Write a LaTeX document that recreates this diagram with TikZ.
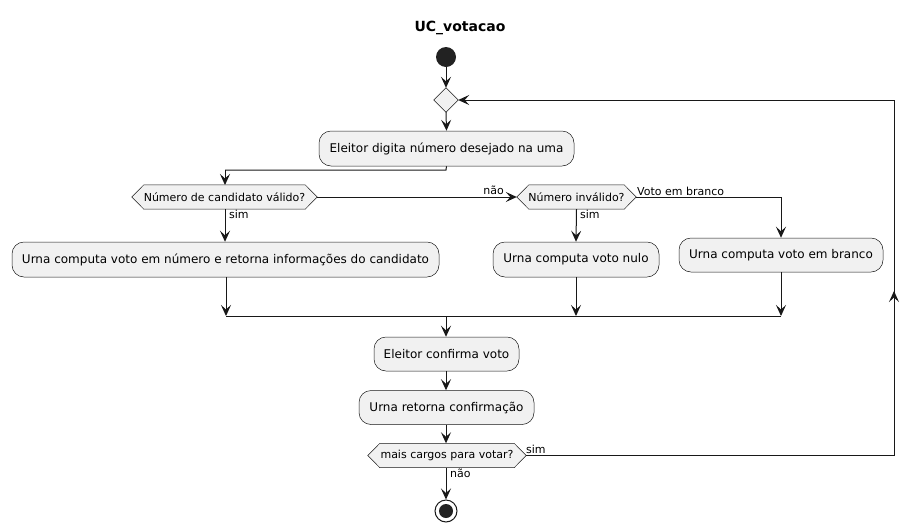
\documentclass[tikz,border=0pt]{standalone}
\usepackage{fontspec}
\setmainfont{DejaVu Sans}
\usetikzlibrary{arrows.meta,backgrounds}
\definecolor{pfill}{HTML}{F1F1F1}
\definecolor{pline}{HTML}{181818}
\definecolor{pdot}{HTML}{222222}
\tikzset{
  act/.style={draw=pline, fill=pfill, line width=0.5pt, rounded corners=12pt,
    font=\fontsize{12}{14}\selectfont, inner sep=0pt, minimum height=35pt, anchor=center},
  dec/.style={font=\fontsize{11}{13}\selectfont, inner sep=0pt, minimum height=24pt, anchor=center},
  lbl/.style={font=\fontsize{11}{13}\selectfont, inner sep=0pt},
  conn/.style={draw=pline, line width=1pt},
  arr/.style={conn, -{Stealth[length=11pt,width=10pt,inset=4.5pt]}},
}
\begin{document}
\begin{tikzpicture}[x=1pt,y=-1pt]
\useasboundingbox (0,0) rectangle (919,531);
% title
\node[font=\bfseries\fontsize{14}{16}\selectfont] (title) at (460,28) {UC\_votacao};
% start
\node[circle, fill=pdot, minimum size=20pt, inner sep=0pt] (start) at (446,57) {};
% merge diamond (position holder)
\node[minimum size=24pt, inner sep=0pt] (m) at (446,100) {};
\node[act, minimum width=255pt] (a1) at (446.5,148.5) {Eleitor digita número desejado na uma};
\node[dec, minimum width=185pt] (d1) at (224.5,197) {Número de candidato válido?};
\node[act, minimum width=427pt] (a2) at (225.5,259.5) {Urna computa voto em número e retorna informações do candidato};
\node[dec, minimum width=119pt] (d2) at (576.5,197) {Número inválido?};
\node[act, minimum width=166pt] (a3) at (576,259.5) {Urna computa voto nulo};
\node[act, minimum width=204pt, minimum height=34pt] (a4) at (781,255) {Urna computa voto em branco};
\node[act, minimum width=145pt, minimum height=34pt] (a5) at (446.5,354) {Eleitor confirma voto};
\node[act, minimum width=175pt, minimum height=34pt] (a6) at (446.5,407.5) {Urna retorna confirmação};
\node[dec, minimum width=158pt] (d3) at (447,455.5) {mais cargos para votar?};
% stop
\node[circle, draw=pline, fill=white, line width=1pt, minimum size=22pt, inner sep=0pt] (stop) at (446,511) {};
\node[circle, fill=pdot, minimum size=14pt, inner sep=0pt] (stopin) at (446,511) {};
% hexagons and diamond
\begin{scope}[on background layer]
\foreach \n in {d1,d2,d3}{
  \filldraw[draw=pline, fill=pfill, line width=0.5pt]
    (\n.west) -- ([xshift=12pt]\n.north west) -- ([xshift=-12pt]\n.north east) -- (\n.east)
    -- ([xshift=-12pt]\n.south east) -- ([xshift=12pt]\n.south west) -- cycle;
}
\filldraw[draw=pline, fill=pfill, line width=0.5pt] (m.north) -- (m.east) -- (m.south) -- (m.west) -- cycle;
\end{scope}
% coordinates
\coordinate (j1) at (446,170);
\coordinate (j2) at (225,170);
\coordinate (d1n) at (225,185);
\coordinate (b1) at (226,316);
\coordinate (b2) at (576,316);
\coordinate (b3) at (781,316);
\coordinate (bm) at (446,316);
\coordinate (r1) at (781,197);
\coordinate (lb) at (894,455.5);
\coordinate (lt) at (894,100);
\coordinate (lm) at (894,291);
% connectors
\draw[arr] (start) -- (m.north);
\draw[arr] (m.south) -- (a1.north);
\draw[conn] (a1.south) -- (j1) -- (j2);
\draw[arr] (j2) -- (d1n);
\draw[arr] (d1.south -| d1n) -- (a2.north -| d1n);
\draw[arr] (a2.south -| b1) -- (b1);
\draw[arr] (d1.east) -- (d2.west);
\draw[arr] (d2.south) -- (a3.north);
\draw[arr] (a3.south) -- (b2);
\draw[conn] (d2.east) -- (r1);
\draw[arr] (r1) -- (a4.north);
\draw[arr] (a4.south) -- (b3);
\draw[conn] (b1) -- (b3);
\draw[arr] (bm) -- (a5.north -| bm);
\draw[arr] (a5.south -| bm) -- (a6.north -| bm);
\draw[arr] (a6.south -| bm) -- (d3.north -| bm);
\draw[arr] (d3.south -| bm) -- (stop.north);
\draw[conn] (d3.east) -- (lb) -- (lt);
\draw[arr] (lt) -- (m.east);
\draw[arr] (lb) -- (lm);
% labels
\node[lbl, anchor=west] (l1) at (229,214) {sim};
\node[lbl, anchor=south east] (l2) at (504,195) {não};
\node[lbl, anchor=west] (l3) at (580,214) {sim};
\node[lbl, anchor=south west] (l4) at (637,195.5) {Voto em branco};
\node[lbl, anchor=south west] (l5) at (526,454) {sim};
\node[lbl, anchor=west] (l6) at (450,473.5) {não};
\end{tikzpicture}
\end{document}
